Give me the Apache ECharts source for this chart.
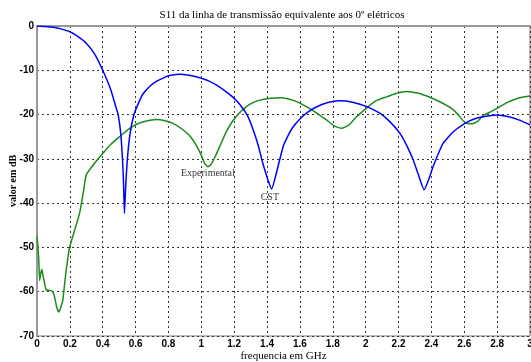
<!DOCTYPE html>
<html>
<head>
<meta charset="utf-8">
<script src="https://cdn.jsdelivr.net/npm/echarts@6/dist/echarts.min.js"></script>
<style>
  html, body { margin: 0; padding: 0; background: #fff; }
  #renderChart { width: 531px; height: 362px; }
</style>
</head>
<body>
<div id="renderChart"></div>
<script>
// CST simulation, [GHz, dB]
const cstData = [
  [0, 0], [0.05, -0.1], [0.1, -0.3], [0.15, -0.7], [0.2, -1.3], [0.25, -2.4], [0.3, -3.9],
  [0.35, -6.3], [0.4, -10], [0.45, -14.5], [0.48, -18.3], [0.494, -20], [0.51, -24.4],
  [0.52, -30], [0.526, -34.7], [0.532, -42.3], [0.54, -36], [0.55, -30], [0.566, -24.4],
  [0.59, -20], [0.62, -17.2], [0.646, -15.3], [0.69, -13.5], [0.726, -12.5], [0.77, -11.7],
  [0.807, -11.2], [0.878, -10.9], [0.95, -11.3], [1.0, -11.8], [1.05, -12.5], [1.1, -13.5],
  [1.15, -14.8], [1.19, -16.0], [1.232, -17.6], [1.28, -20.2], [1.313, -23.2], [1.345, -26.8],
  [1.374, -31], [1.405, -34.7], [1.428, -36.8], [1.456, -33.3], [1.497, -27.3], [1.53, -24.6],
  [1.558, -22.8], [1.6, -21], [1.65, -19.4], [1.7, -18.3], [1.76, -17.4], [1.84, -16.9],
  [1.92, -17.2], [2.0, -18.1], [2.086, -19.7], [2.15, -21.7], [2.208, -24.2], [2.25, -27],
  [2.289, -30.2], [2.32, -33.5], [2.356, -37.0], [2.385, -34.5], [2.41, -31.8], [2.44, -29],
  [2.471, -26.5], [2.53, -24], [2.604, -22.0], [2.66, -21], [2.715, -20.5], [2.797, -20.1],
  [2.87, -20.5], [2.94, -21.3], [3.0, -22.3]
];

// measured, [GHz, dB]
const expData = [
  [0, -47.5], [0.006, -50], [0.011, -53], [0.016, -57.5], [0.022, -56], [0.03, -55],
  [0.037, -56.5], [0.046, -58], [0.056, -59.6], [0.08, -59.7], [0.096, -60], [0.107, -61.2],
  [0.12, -63.5], [0.133, -64.6], [0.145, -63.5], [0.157, -61.9], [0.175, -56], [0.198, -50],
  [0.23, -46], [0.259, -42.3], [0.28, -38], [0.3, -33.6], [0.35, -31], [0.4, -28.8],
  [0.45, -26.7], [0.502, -25.0], [0.55, -23.5], [0.6, -22.3], [0.66, -21.5], [0.726, -21.1],
  [0.78, -21.4], [0.827, -22.0], [0.88, -23.2], [0.929, -24.8], [0.97, -27], [1.0, -29.2],
  [1.02, -31], [1.04, -31.8], [1.06, -31.2], [1.08, -29.8], [1.111, -27.3], [1.15, -24],
  [1.192, -21.4], [1.24, -19.3], [1.294, -17.7], [1.35, -16.8], [1.42, -16.3], [1.487, -16.2],
  [1.56, -16.8], [1.639, -18.2], [1.7, -19.6], [1.761, -21.2], [1.81, -22.6], [1.853, -23.1],
  [1.9, -22.3], [1.944, -20.5], [2.0, -18.7], [2.05, -17.2], [2.086, -16.5], [2.127, -16.0],
  [2.19, -15.2], [2.248, -14.8], [2.32, -15.2], [2.39, -16.1], [2.45, -17.1], [2.514, -18.4],
  [2.56, -19.9], [2.604, -21.8], [2.644, -22.1], [2.68, -21.6], [2.715, -20.2], [2.76, -19.4],
  [2.817, -18.2], [2.86, -17.3], [2.898, -16.7], [2.95, -16.1], [3.0, -15.8]
];

// text labels placed in data units
const labelNames = ['Experimental', 'CST'];
const labelPos = [[1.04, -33.2], [1.417, -38.8]];

const titleText = 'S11 da linha de transmissão equivalente aos 0º elétricos';
const xName = 'frequencia em GHz';
const yName = 'valor em dB';

const tickFont = { fontFamily: 'Liberation Sans', fontWeight: 'bold', fontSize: 10, color: '#000' };
const gridLine = { show: true, lineStyle: { color: '#333', width: 1, type: [2, 3] } };

const myChart = echarts.init(document.getElementById('renderChart'));

const option = {
  backgroundColor: '#fff',
  animation: false,
  title: {
    text: titleText,
    left: 277,
    top: 5,
    textAlign: 'center',
    textStyle: { fontFamily: 'Liberation Serif', fontWeight: 'normal', fontSize: 11, color: '#000' }
  },
  grid: {
    left: 37, right: 1, top: 26, bottom: 26,
    outerBoundsMode: 'none',
    containLabel: false,
    show: true, borderColor: '#777', borderWidth: 1
  },
  xAxis: {
    type: 'value',
    min: 0, max: 3, interval: 0.2,
    name: xName,
    nameLocation: 'middle',
    nameGap: 15,
    nameMoveOverlap: false,
    nameTextStyle: { fontFamily: 'Liberation Serif', fontSize: 11, color: '#000' },
    axisLine: { lineStyle: { color: '#999', width: 2 } },
    axisTick: { show: false },
    axisLabel: Object.assign({ margin: 3, formatter: v => String(+v.toFixed(1)) }, tickFont),
    splitLine: gridLine
  },
  yAxis: {
    type: 'value',
    min: -70, max: 0, interval: 10,
    name: yName,
    nameLocation: 'middle',
    nameGap: 19,
    nameMoveOverlap: false,
    nameTextStyle: { fontFamily: 'Liberation Serif', fontWeight: 'bold', fontSize: 10, color: '#000' },
    axisLine: { onZero: false, lineStyle: { color: '#999', width: 2 } },
    axisTick: { show: false },
    axisLabel: Object.assign({ margin: 3 }, tickFont),
    splitLine: gridLine
  },
  series: [
    {
      name: 'CST',
      type: 'line',
      data: cstData,
      showSymbol: false,
      smooth: 0.15,
      lineStyle: { color: '#0000ff', width: 1.5 },
      z: 3
    },
    {
      name: 'Experimental',
      type: 'line',
      data: expData,
      showSymbol: false,
      smooth: 0.15,
      lineStyle: { color: '#1a8c1a', width: 1.5 },
      z: 2
    },
    {
      type: 'scatter',
      symbolSize: 0,
      data: labelPos.map((p, i) => ({ value: p, name: labelNames[i] })),
      label: {
        show: true,
        position: 'inside',
        formatter: p => p.name,
        fontFamily: 'Liberation Serif',
        fontSize: 10,
        color: '#000'
      },
      z: 4
    }
  ]
};

myChart.setOption(option);
</script>
</body>
</html>
